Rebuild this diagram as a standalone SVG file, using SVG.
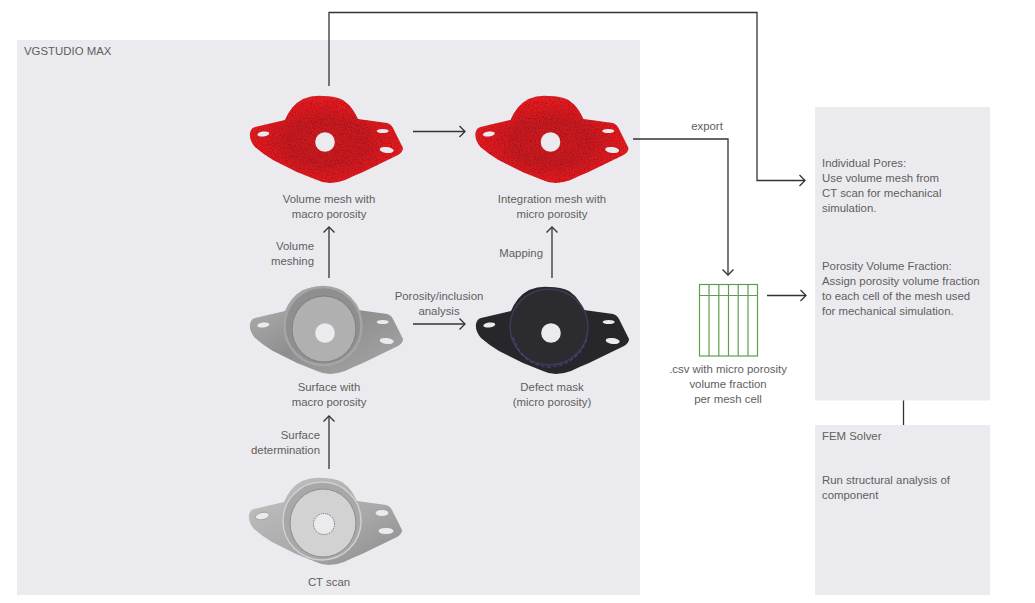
<svg xmlns="http://www.w3.org/2000/svg" width="1035" height="603" viewBox="0 0 1035 603">
<style>
.t{font-family:"Liberation Sans",Arial,sans-serif;font-size:11.4px;fill:#5e5e5e}
.m{text-anchor:middle}.e{text-anchor:end}
.panel{fill:#ebebef}
.c{fill:none;stroke:#333;stroke-width:1.3;marker-end:url(#a)}
.g{fill:none;stroke:#5f9e4f;stroke-width:1.2}
</style>
<defs>
<marker id="a" markerUnits="userSpaceOnUse" markerWidth="12" markerHeight="14" refX="10" refY="7" orient="auto"><path d="M4.500 1.500L10 7L4.500 12.500" fill="none" stroke="#333" stroke-width="1.300"/></marker>
<filter id="speck" x="0" y="0" width="1" height="1"><feTurbulence type="fractalNoise" baseFrequency="0.8" numOctaves="2" seed="4"/><feColorMatrix values="0 0 0 0 0.2  0 0 0 0 0  0 0 0 0 0  1.500 0 0 0 -0.700"/><feComposite in2="SourceAlpha" operator="in" result="n"/><feMerge><feMergeNode in="SourceGraphic"/><feMergeNode in="n"/></feMerge></filter>
<radialGradient id="red" cx=".5" cy=".53" r=".5"><stop offset="0" stop-color="#cc1c21"/><stop offset=".5" stop-color="#c21b20"/><stop offset=".8" stop-color="#da1d22"/><stop offset="1" stop-color="#e02025"/></radialGradient>
<linearGradient id="gray" x1="0" y1="0" x2="1" y2="1"><stop offset="0" stop-color="#b5b5b5"/><stop offset=".5" stop-color="#8e8e8e"/><stop offset="1" stop-color="#a8a8a8"/></linearGradient>
<linearGradient id="ct" x1="0" y1="0" x2="1" y2="1"><stop offset="0" stop-color="#c4c4c4"/><stop offset=".6" stop-color="#a8a8a8"/><stop offset="1" stop-color="#8a8a8a"/></linearGradient>
<path id="body" d="M-75-9Q-74-14-70-15L-40-22Q-37-29-33-34Q-28-40-22-43Q-12-47-2-46Q10-46 18-42Q24-38 28-32Q31-27 33-23L62-19Q66-18 68-14L78 6Q78 10 73 13L38 30Q28 34 20 38Q12 41 5 41Q-2 41-8 38L-28 30L-52 18Q-62 12-70 5Q-76-2-75-9Z"/>
<g id="holes"><circle cx="0" cy="0" r="9.800"/><ellipse cx="-61.700" cy="-8" rx="6" ry="2.500" transform="rotate(-8 -61.700 -8)"/><ellipse cx="57.700" cy="-11" rx="6" ry="2"/><ellipse cx="61.700" cy="8" rx="7" ry="3" transform="rotate(6 61.700 8)"/></g>
</defs>
<rect width="1035" height="603" fill="#fff"/>
<rect id="vgstudio" class="panel" x="17" y="40" width="623" height="555"/>
<g id="connectors">
<path class="c" d="M329 86V12.500H757V180.500H805"/>
<path class="c" d="M413 131.500H465"/>
<path class="c" d="M633 139H728V275"/>
<path class="c" d="M329 278V227"/>
<path class="c" d="M552 278V227"/>
<path class="c" d="M413 324H465"/>
<path class="c" d="M329 469V416"/>
<path class="c" d="M767 295.500H806"/>
<path d="M903.500 400V425" fill="none" stroke="#333" stroke-width="1.300"/>
</g>
<g id="label-vgstudio"><text class="t" x="24" y="55">VGSTUDIO MAX</text></g>
<g id="volume-mesh">
<g transform="translate(325 142)"><use href="#body" fill="url(#red)" filter="url(#speck)"/><use href="#holes" fill="#ebebef"/></g>
<text class="t m" x="329" y="203">Volume mesh with</text><text class="t m" x="329" y="218">macro porosity</text>
</g>
<g id="integration-mesh">
<g transform="translate(550.500 142)"><use href="#body" fill="url(#red)" filter="url(#speck)"/><use href="#holes" fill="#ebebef"/></g>
<text class="t m" x="552" y="203">Integration mesh with</text><text class="t m" x="552" y="218">micro porosity</text>
</g>
<g id="surface">
<g transform="translate(325 333)"><use href="#body" fill="url(#gray)"/>
<ellipse cx="-2" cy="-7" rx="38.500" ry="39" fill="#8f8f8f" stroke="#a5a5a5" stroke-width="2.500"/><ellipse cx="-1" cy="-4" rx="32" ry="33" fill="#b0b0b0" stroke="#7e7e7e"/>
<use href="#holes" fill="#ebebef"/></g>
<text class="t m" x="329" y="391">Surface with</text><text class="t m" x="329" y="406">macro porosity</text>
</g>
<g id="defect-mask">
<g transform="translate(551 333)"><use href="#body" fill="#26262b"/>
<ellipse cx="-2" cy="-6" rx="39" ry="38" fill="#2b2b30" stroke="#3c3c58" stroke-width="1.500"/>
<path d="M-38 4Q-30 30-5 34Q25 34 36 6" fill="none" stroke="#4a4a88" stroke-width="1.500" stroke-dasharray="4 2" opacity=".7"/>
<use href="#holes" fill="#ebebef"/></g>
<text class="t m" x="552" y="391">Defect mask</text><text class="t m" x="552" y="406">(micro porosity)</text>
</g>
<g id="ct-scan">
<g transform="translate(324 524)"><use href="#body" fill="url(#ct)"/>
<ellipse cx="-2" cy="-3" rx="39" ry="39" fill="#a8a8a8" stroke="#d0d0d0" stroke-width="1.500"/>
<ellipse cx="-1" cy="-1" rx="33" ry="34" fill="#d2d2d2" stroke="#8c8c8c" stroke-width="1"/>
<circle cx="0" cy="0" r="10.500" fill="#ebebef" stroke="#666" stroke-dasharray="1 1"/>
<ellipse cx="-61.700" cy="-8" rx="7" ry="3.500" transform="rotate(-12 -61.700 -8)" fill="#ebebef" stroke="#8a8a8a" stroke-width=".6"/><ellipse cx="58" cy="-11" rx="7" ry="3.500" fill="#ebebef" stroke="#8a8a8a" stroke-width=".6"/><ellipse cx="62" cy="7" rx="8" ry="3.500" fill="#ebebef" stroke="#8a8a8a" stroke-width=".6"/></g>
<text class="t m" x="329" y="586">CT scan</text>
</g>
<g id="edge-labels">
<text class="t e" x="314" y="250">Volume</text><text class="t e" x="314" y="265">meshing</text>
<text class="t e" x="543" y="257">Mapping</text>
<text class="t m" x="439" y="300">Porosity/inclusion</text><text class="t m" x="439" y="315">analysis</text>
<text class="t e" x="320" y="439">Surface</text><text class="t e" x="320" y="454">determination</text>
<text class="t m" x="707" y="130">export</text>
</g>
<g id="csv">
<rect class="g" x="699.500" y="284.500" width="58" height="71.500"/>
<path class="g" d="M699.500 295.500H757.500M709 284.500V356M718.800 284.500V356M728.500 284.500V356M738.200 284.500V356M748 284.500V356"/>
<text class="t m" x="728" y="373">.csv with micro porosity</text><text class="t m" x="728" y="388">volume fraction</text><text class="t m" x="728" y="403">per mesh cell</text>
</g>
<g id="simulation">
<rect class="panel" x="815" y="107" width="175" height="293.500"/>
<text class="t" x="822" y="167">Individual Pores:</text><text class="t" x="822" y="182">Use volume mesh from</text><text class="t" x="822" y="197">CT scan for mechanical</text><text class="t" x="822" y="211.500">simulation.</text>
<text class="t" x="822" y="270">Porosity Volume Fraction:</text><text class="t" x="822" y="285">Assign porosity volume fraction</text><text class="t" x="822" y="300">to each cell of the mesh used</text><text class="t" x="822" y="314.500">for mechanical simulation.</text>
</g>
<g id="fem-solver">
<rect class="panel" x="815" y="425" width="175" height="170"/>
<text class="t" x="822" y="440">FEM Solver</text>
<text class="t" x="822" y="484">Run structural analysis of</text><text class="t" x="822" y="499">component</text>
</g>
</svg>
